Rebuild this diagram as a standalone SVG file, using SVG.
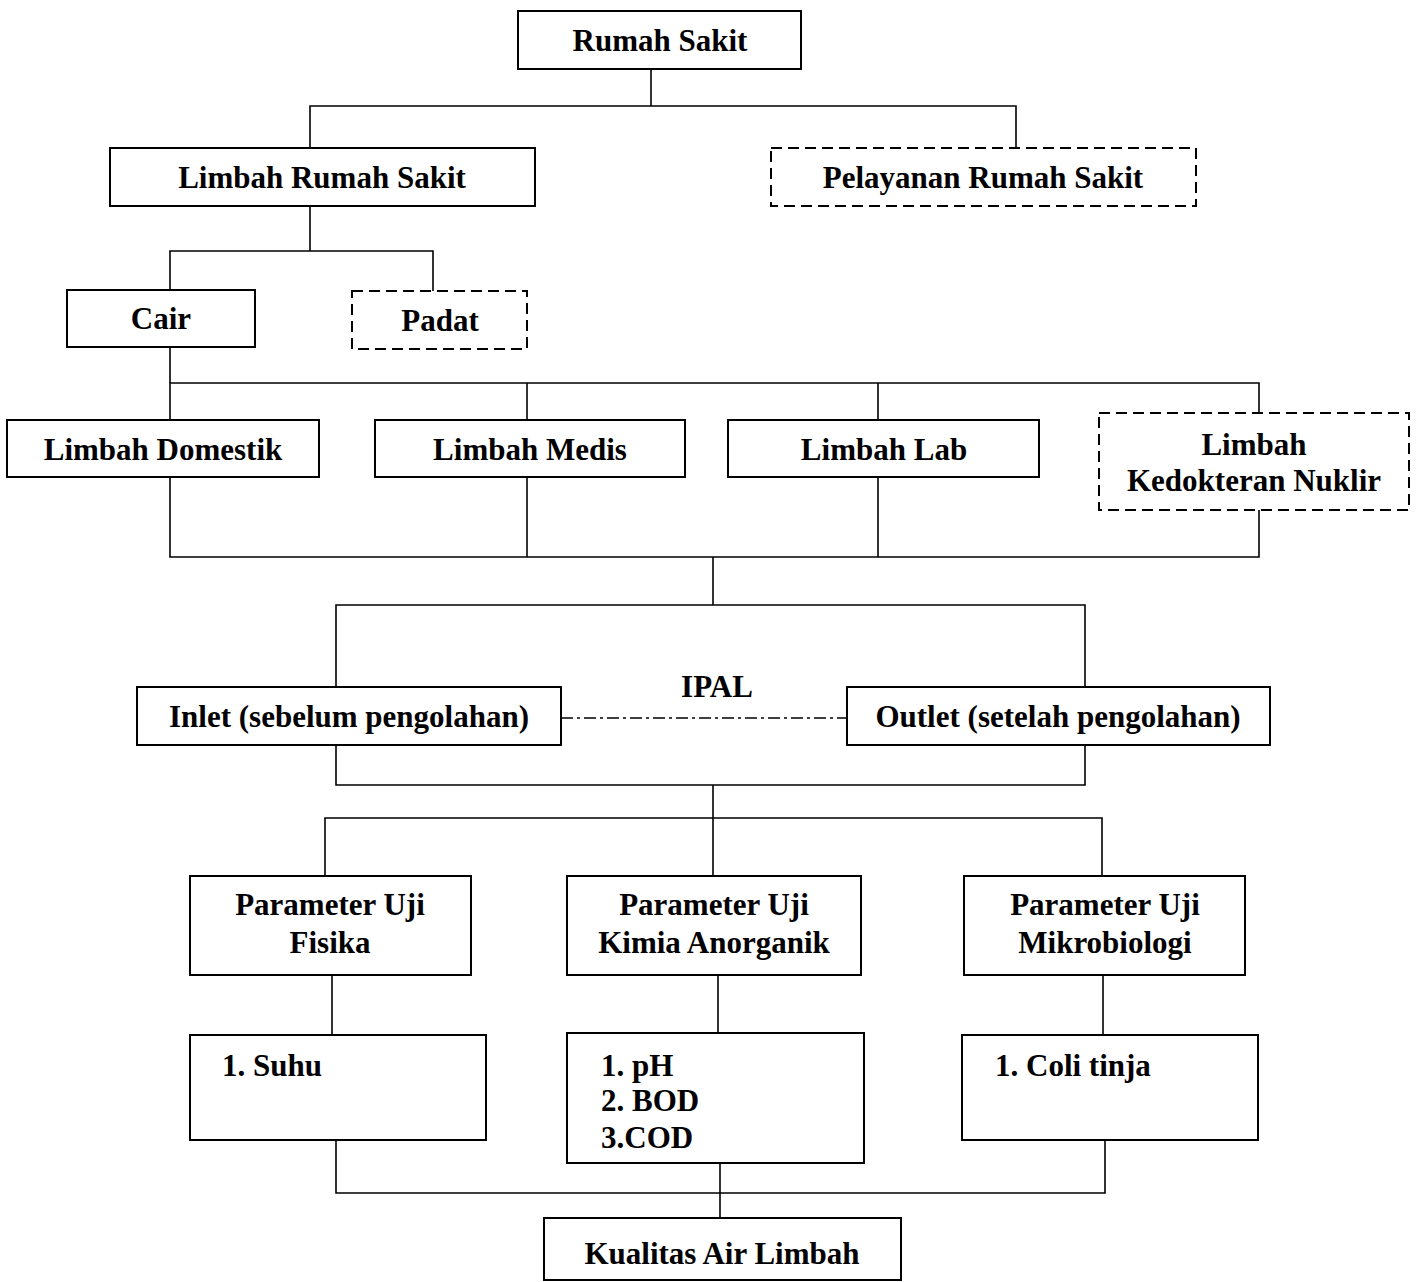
<svg xmlns="http://www.w3.org/2000/svg" width="1417" height="1282" viewBox="0 0 1417 1282">
<style>
.b{fill:#fff;stroke:#000;stroke-width:2}
.d{fill:#fff;stroke:#000;stroke-width:2;stroke-dasharray:11 6}
text{font-family:"Liberation Serif","Times New Roman",serif;font-weight:bold;font-size:31px;fill:#000}
.c{text-anchor:middle}
#connectors line,#connectors polyline{stroke:#000;stroke-width:1.6;fill:none}
</style>
<rect width="1417" height="1282" fill="#fff"/>
<g id="connectors">
<line x1="651" y1="69" x2="651" y2="106"/>
<polyline points="310,148 310,106 1016,106 1016,148"/>
<line x1="310" y1="206" x2="310" y2="251"/>
<polyline points="170,290 170,251 433,251 433,291"/>
<line x1="170" y1="347" x2="170" y2="383"/>
<polyline points="170,420 170,383 1259,383 1259,413"/>
<line x1="527" y1="383" x2="527" y2="420"/>
<line x1="878" y1="383" x2="878" y2="420"/>
<polyline points="170,477 170,557 1259,557 1259,510"/>
<line x1="527" y1="477" x2="527" y2="557"/>
<line x1="878" y1="477" x2="878" y2="557"/>
<line x1="713" y1="557" x2="713" y2="605"/>
<polyline points="336,687 336,605 1085,605 1085,687"/>
<polyline points="336,745 336,785 1085,785 1085,745"/>
<line x1="561" y1="718" x2="847" y2="718" style="stroke-dasharray:12 4 3 4"/>
<line x1="713" y1="785" x2="713" y2="876"/>
<polyline points="325,876 325,818 1102,818 1102,876"/>
<line x1="332" y1="975" x2="332" y2="1035"/>
<line x1="718" y1="975" x2="718" y2="1033"/>
<line x1="1103" y1="975" x2="1103" y2="1035"/>
<polyline points="336,1140 336,1193 1105,1193 1105,1140"/>
<line x1="720" y1="1163" x2="720" y2="1218"/>
</g>
<g id="rumah-sakit"><rect class="b" x="518" y="11" width="283" height="58"/><text class="c" x="660" y="51">Rumah Sakit</text></g>
<g id="limbah-rs"><rect class="b" x="110" y="148" width="425" height="58"/><text class="c" x="322" y="188">Limbah Rumah Sakit</text></g>
<g id="pelayanan"><rect class="d" x="771" y="148" width="425" height="58"/><text class="c" x="983" y="188">Pelayanan Rumah Sakit</text></g>
<g id="cair"><rect class="b" x="67" y="290" width="188" height="57"/><text class="c" x="161" y="329">Cair</text></g>
<g id="padat"><rect class="d" x="352" y="291" width="175" height="58"/><text class="c" x="440" y="331">Padat</text></g>
<g id="domestik"><rect class="b" x="7" y="420" width="312" height="57"/><text class="c" x="163" y="460">Limbah Domestik</text></g>
<g id="medis"><rect class="b" x="375" y="420" width="310" height="57"/><text class="c" x="530" y="460">Limbah Medis</text></g>
<g id="lab"><rect class="b" x="728" y="420" width="311" height="57"/><text class="c" x="884" y="460">Limbah Lab</text></g>
<g id="nuklir"><rect class="d" x="1099" y="413" width="310" height="97"/><text class="c" x="1254" y="455">Limbah</text><text class="c" x="1254" y="491">Kedokteran Nuklir</text></g>
<g id="ipal"><text class="c" x="717" y="697">IPAL</text></g>
<g id="inlet"><rect class="b" x="137" y="687" width="424" height="58"/><text class="c" x="349" y="727">Inlet (sebelum pengolahan)</text></g>
<g id="outlet"><rect class="b" x="847" y="687" width="423" height="58"/><text class="c" x="1058" y="727">Outlet (setelah pengolahan)</text></g>
<g id="fisika"><rect class="b" x="190" y="876" width="281" height="99"/><text class="c" x="330" y="915">Parameter Uji</text><text class="c" x="330" y="953">Fisika</text></g>
<g id="kimia"><rect class="b" x="567" y="876" width="294" height="99"/><text class="c" x="714" y="915">Parameter Uji</text><text class="c" x="714" y="953">Kimia Anorganik</text></g>
<g id="mikro"><rect class="b" x="964" y="876" width="281" height="99"/><text class="c" x="1105" y="915">Parameter Uji</text><text class="c" x="1105" y="953">Mikrobiologi</text></g>
<g id="suhu"><rect class="b" x="190" y="1035" width="296" height="105"/><text x="222" y="1076">1.  Suhu</text></g>
<g id="kimia-list"><rect class="b" x="567" y="1033" width="297" height="130"/><text x="601" y="1076">1. pH</text><text x="601" y="1111">2. BOD</text><text x="601" y="1148">3.COD</text></g>
<g id="coli"><rect class="b" x="962" y="1035" width="296" height="105"/><text x="995" y="1076">1.  Coli tinja</text></g>
<g id="kualitas"><rect class="b" x="544" y="1218" width="357" height="62"/><text class="c" x="722" y="1264">Kualitas Air Limbah</text></g>
</svg>
